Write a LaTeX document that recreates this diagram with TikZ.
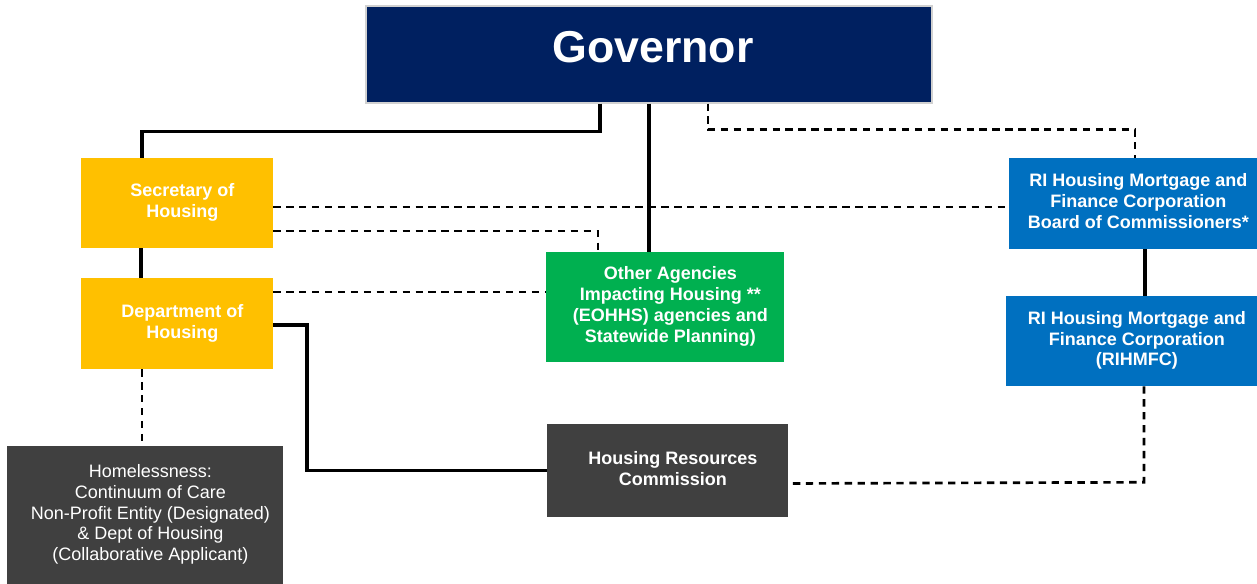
\documentclass[tikz,border=0pt]{standalone}
\usepackage{fontspec}
\setmainfont{Liberation Sans}
\usetikzlibrary{calc}

\definecolor{govnavy}{RGB}{0,32,96}
\definecolor{housegold}{RGB}{255,192,0}
\definecolor{agencygreen}{RGB}{0,176,80}
\definecolor{riblue}{RGB}{0,112,192}
\definecolor{darkslate}{RGB}{64,64,64}

% text block, nudged a little right and down as in the chart
\newcommand{\boxlines}[1]{\kern8pt\raisebox{-3.5pt}{\begin{tabular}{@{}c@{}}#1\end{tabular}}}

\tikzset{
	unit/.style={rectangle, text=white, align=center, inner sep=0pt, font=\fontsize{13.5}{15.6}\selectfont\bfseries},
	govbox/.style={unit, fill=govnavy, draw=black!18, line width=0.8pt, font=\fontsize{33.5}{40}\selectfont\bfseries},
	housebox/.style={unit, fill=housegold},
	agencybox/.style={unit, fill=agencygreen},
	ribox/.style={unit, fill=riblue},
	slatebox/.style={unit, fill=darkslate},
	reports/.style={draw=black, line width=2.8pt},
	liaison/.style={draw=black, line width=2pt, dash pattern=on 5.5pt off 4.2pt}
}

\begin{document}
\begin{tikzpicture}[x=0.75pt, y=-0.75pt]
	\useasboundingbox (0,0) rectangle (1257,584);
	% boxes
	\node[govbox, minimum width=566*0.75pt, minimum height=97*0.75pt] (gov) at (649,54.5) {\kern6pt\raisebox{12pt}{Governor}};
	\node[housebox, minimum width=192*0.75pt, minimum height=90*0.75pt] (sec) at (177,203) {\boxlines{Secretary of\\Housing}};
	\node[housebox, minimum width=192*0.75pt, minimum height=91*0.75pt] (dept) at (177,323.5) {\boxlines{Department of\\Housing}};
	\node[agencybox, minimum width=238*0.75pt, minimum height=110*0.75pt] (other) at (665,307) {\boxlines{Other Agencies\\Impacting Housing **\\(EOHHS) agencies and\\Statewide Planning)}};
	\node[slatebox, minimum width=241*0.75pt, minimum height=93*0.75pt] (hrc) at (667.5,470.5) {\boxlines{Housing Resources\\Commission}};
	\node[slatebox, font=\fontsize{13.5}{15.6}\selectfont, minimum width=276*0.75pt, minimum height=138*0.75pt] (homeless) at (145,515) {\boxlines{Homelessness:\\Continuum of Care\\Non-Profit Entity (Designated)\\\& Dept of Housing\\(Collaborative Applicant)}};
	\node[ribox, minimum width=248*0.75pt, minimum height=91*0.75pt] (board) at (1133,203.5) {\boxlines{RI Housing Mortgage and\\Finance Corporation\\Board of Commissioners*}};
	\node[ribox, minimum width=251*0.75pt, minimum height=90*0.75pt] (rihmfc) at (1131.5,341) {\boxlines{RI Housing Mortgage and\\Finance Corporation\\(RIHMFC)}};
	% solid lines
	\draw[reports] (gov.south) ++(-49,0) -- ++(0,28) -| ($(sec.north)+(-35,0)$);
	\draw[reports] (gov.south) -- (gov.south |- other.north);
	\draw[reports] ($(sec.south)+(-36,0)$) -- ($(dept.north)+(-36,0)$);
	\draw[reports] (dept.east) ++(0,1.5) -- ++(34,0) |- (hrc.west);
	\draw[reports] ($(board.south)+(12,0)$) coordinate (b1) -- (b1 |- rihmfc.north);
	% dashed lines
	\draw[liaison] (gov.south) ++(59,0) -- ++(0,26) -| ($(board.north)+(2,0)$);
	\draw[liaison] ($(sec.east)+(0,4)$) coordinate (s1) -- (s1 -| board.west);
	\draw[liaison] ($(sec.east)+(0,28)$) -| ($(other.north)+(-67,0)$);
	\draw[liaison] ($(dept.east)+(0,-31.5)$) coordinate (d1) -- (d1 -| other.west);
	\draw[liaison] ($(dept.south)+(-35,0)$) coordinate (d2) -- (d2 |- homeless.north);
	\draw[liaison] ($(rihmfc.south)+(12.5,0)$) -- ++(0,96) -- ($(hrc.east)+(0,13)$);
\end{tikzpicture}
\end{document}
